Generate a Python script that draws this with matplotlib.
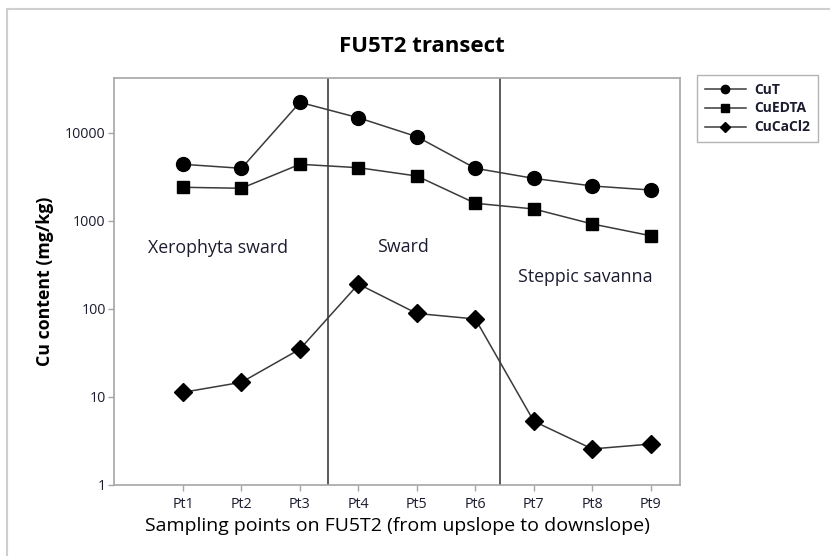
import numpy as np
import matplotlib
matplotlib.use("Agg")
import matplotlib.pyplot as plt
from matplotlib.patches import Rectangle
from matplotlib.ticker import FixedLocator, NullLocator

plt.rcParams['font.family'] = ['Open Sans', 'DejaVu Sans']

points = ["Pt1", "Pt2", "Pt3", "Pt4", "Pt5", "Pt6", "Pt7", "Pt8", "Pt9"]
cu_total = [4410, 3970, 22300, 14900, 9080, 3970, 3050, 2500, 2250]
cu_edta = [2415, 2355, 4410, 4035, 3245, 1590, 1370, 925, 680]
cu_cacl2 = [11.3, 14.7, 35, 192, 89, 77, 5.3, 2.57, 2.92]

zone_names = ["Xerophyta sward", "Sward", "Steppic savanna"]
zone_label_x = [1.6, 4.76, 7.88]
zone_label_y = [493, 500, 231]
zone_bounds = [3.48, 6.42]

yticks = [1, 10, 100, 1000, 10000]

text_col = "#1c1c30"
spine_col = "#a6a6a6"
line_col = "#3a3a3a"

fig = plt.figure(figsize=(8.3, 5.56), dpi=100)
fig.patch.set_facecolor("white")
fig.patches.append(Rectangle((7 / 830, -0.01), 1.0, 1 - 9 / 556 + 0.01,
                             transform=fig.transFigure, fill=False,
                             edgecolor="#cfcfcf", linewidth=1.5))

ax = fig.add_axes([114 / 830, 1 - 485 / 556, (680 - 114) / 830, (485 - 78) / 556])
x = np.arange(1, len(points) + 1)

ax.plot(x, cu_total, color=line_col, lw=1.1, marker="o", ms=10,
        mfc="black", mec="black", label="CuT", zorder=3)
ax.plot(x, cu_edta, color=line_col, lw=1.1, marker="s", ms=8.5,
        mfc="black", mec="black", label="CuEDTA", zorder=3)
ax.plot(x, cu_cacl2, color=line_col, lw=1.1, marker="D", ms=9,
        mfc="black", mec="black", label="CuCaCl2", zorder=3)

for b in zone_bounds:
    ax.axvline(b, color="#5a5a5a", lw=1.4, zorder=2)

for name, zx, zy in zip(zone_names, zone_label_x, zone_label_y):
    ax.text(zx, zy, name, ha="center", va="center", fontsize=12.8, color=text_col)

ax.set_yscale("log")
ax.set_ylim(1, 10 ** 4.625)
ax.set_xlim(-0.18, 9.5)
ax.yaxis.set_major_locator(FixedLocator(yticks))
ax.yaxis.set_minor_locator(NullLocator())
ax.set_yticklabels([str(v) for v in yticks])
ax.set_xticks(x)
ax.set_xticklabels(points)

ax.tick_params(axis="both", direction="out", length=4, width=1,
               color=spine_col, labelcolor=text_col, labelsize=10.3)
ax.tick_params(axis="y", pad=2)
ax.tick_params(axis="x", pad=5)
for s in ax.spines.values():
    s.set_color(spine_col)
    s.set_linewidth(1.2)

ax.set_ylabel("Cu content (mg/kg)", fontsize=12.8, fontweight="bold",
              color="black", labelpad=8)
ax.set_xlabel("Sampling points on FU5T2 (from upslope to downslope)",
              fontsize=14, fontweight="medium", color="black", labelpad=3)

fig.text(422 / 830, 1 - 46 / 556, "FU5T2 transect", ha="center", va="center",
         fontsize=16, fontweight="bold", color="black")

leg = fig.legend(loc="upper left", bbox_to_anchor=(697 / 830, 1 - 75 / 556),
                 fontsize=10, markerscale=0.6, frameon=True, fancybox=False,
                 edgecolor="#a0a0a0", handlelength=3.0, labelspacing=0.35,
                 borderpad=0.55, handletextpad=0.6, borderaxespad=0)
leg.get_frame().set_linewidth(1.0)
for t in leg.get_texts():
    t.set_fontweight("bold")
    t.set_color(text_col)

fig.savefig("out.png", dpi=100, facecolor="white")
